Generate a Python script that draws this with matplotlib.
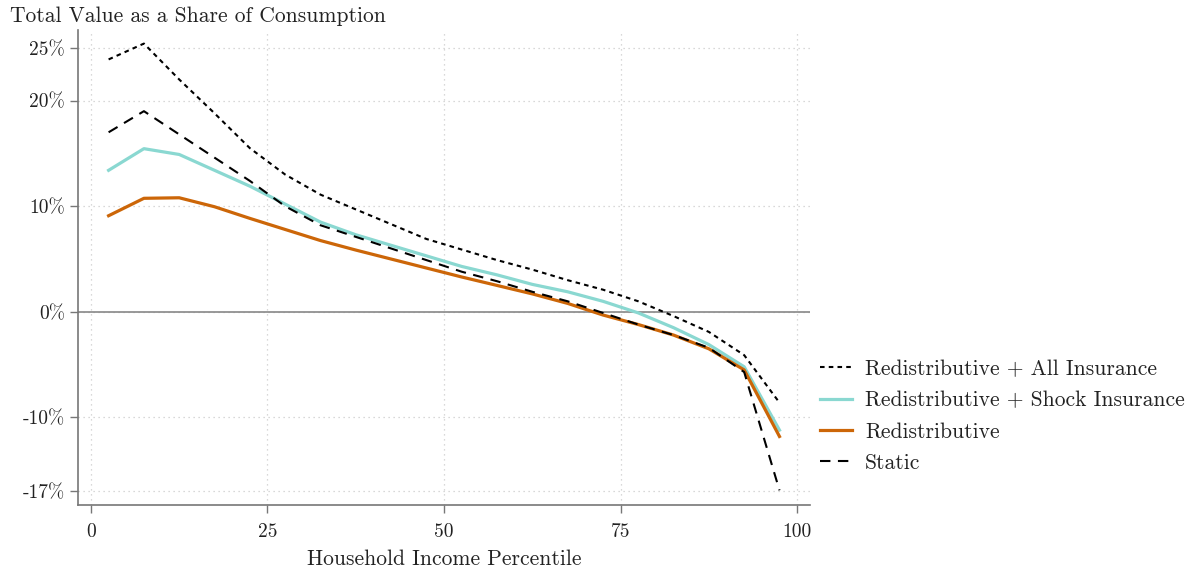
import matplotlib
matplotlib.use("Agg")
import matplotlib.pyplot as plt
import numpy as np

plt.rcParams['font.family'] = ['cmr10', 'DejaVu Serif']
plt.rcParams['axes.unicode_minus'] = False
plt.rcParams['mathtext.fontset'] = 'cm'

percentiles = [2.5, 7.5, 12.5, 17.5, 22.5, 27.5, 32.5, 37.5, 42.5, 47.5,
               52.5, 57.5, 62.5, 67.5, 72.5, 77.5, 82.5, 87.5, 92.5, 97.5]
all_insurance = [23.9, 25.4, 22.0, 18.8, 15.5, 13.0, 11.1, 9.7, 8.3, 6.9,
                 5.9, 4.9, 4.0, 3.0, 2.1, 1.0, -0.4, -1.9, -4.1, -8.6]
shock_insurance = [13.4, 15.45, 14.9, 13.4, 11.9, 10.2, 8.5, 7.3, 6.3, 5.3,
                   4.3, 3.5, 2.6, 1.9, 1.0, -0.1, -1.5, -3.1, -5.2, -11.2]
redistributive = [9.1, 10.75, 10.8, 9.95, 8.85, 7.8, 6.75, 5.85, 5.0, 4.15,
                  3.3, 2.5, 1.7, 0.8, -0.3, -1.2, -2.2, -3.5, -5.5, -11.8]
static = [17.0, 19.0, 16.8, 14.6, 12.4, 10.0, 8.2, 7.1, 6.0, 4.9,
          3.8, 2.9, 1.9, 1.0, -0.1, -1.2, -2.2, -3.4, -5.7, -16.9]

series_labels = ["Redistributive + All Insurance", "Redistributive + Shock Insurance",
                 "Redistributive", "Static"]
xticks = [0, 25, 50, 75, 100]
yticks = [25, 20, 10, 0, -10, -17]
ytick_labels = ["25%", "20%", "10%", "0%", "-10%", "-17%"]

fig = plt.figure(figsize=(11.92, 5.74), dpi=100)
ax = fig.add_axes([0.0654, 0.120, 0.614, 0.828])

x = np.array(percentiles)
ax.plot(x, all_insurance, color='black', lw=1.5, dashes=(2.2, 2.0), label=series_labels[0], zorder=4)
ax.plot(x, shock_insurance, color='#8ad8d1', lw=2.3, label=series_labels[1], zorder=3)
ax.plot(x, redistributive, color='#cc6608', lw=2.3, label=series_labels[2], zorder=3)
ax.plot(x, static, color='black', lw=1.5, dashes=(5.0, 3.6), label=series_labels[3], zorder=4)

ax.axhline(0, color='#888888', lw=1.2, zorder=2)

ax.set_xlim(-1.84, 101.8)
ax.set_ylim(-18.3, 26.7)
ax.set_xticks(xticks)
ax.set_xticklabels([str(t) for t in xticks])
ax.set_yticks(yticks)
ax.set_yticklabels(ytick_labels)

ax.grid(True, color='#cccccc', linestyle=(0, (1, 3)), lw=0.9)
for s in ['top', 'right']:
    ax.spines[s].set_visible(False)
for s in ['left', 'bottom']:
    ax.spines[s].set_color('#777777')
    ax.spines[s].set_linewidth(1.2)
ax.tick_params(axis='both', colors='#777777', labelcolor='#222222', labelsize=14,
               length=6, width=1.0, direction='out')
ax.tick_params(axis='x', pad=7)

ax.set_xlabel("Household Income Percentile", fontsize=15.5, color='#222222', labelpad=6)
fig.text(0.008, 0.972, "Total Value as a Share of Consumption", fontsize=15.5,
         color='#222222', ha='left', va='center')

leg = fig.legend(loc='center left', bbox_to_anchor=(0.6715, 0.275), frameon=False,
                 fontsize=15.5, handlelength=1.5, handletextpad=0.6, labelspacing=0.55)
for t in leg.get_texts():
    t.set_color('#222222')

fig.savefig("out.png", dpi=100)
